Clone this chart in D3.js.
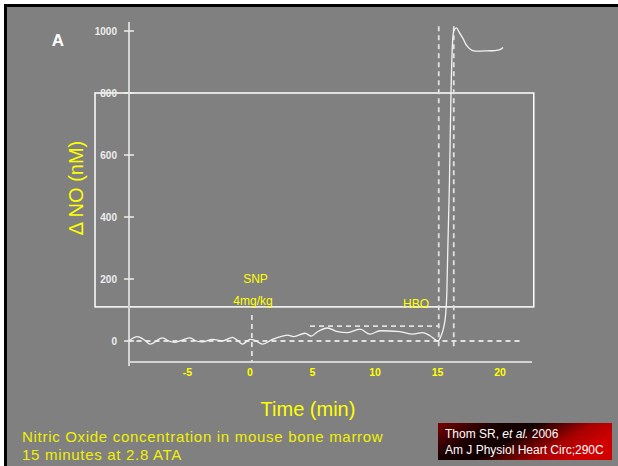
<!DOCTYPE html>
<html><head><meta charset="utf-8">
<script src="https://cdn.jsdelivr.net/npm/d3@7/dist/d3.min.js"></script>
<style>html,body{margin:0;padding:0;background:#fff;}svg{display:block;}</style>
</head><body>
<script>
// ---- data ----
const timeMin = [-9.7,-9.0,-8.4,-8.0,-7.0,-6.5,-6.0,-5.4,-4.8,-4.3,-3.8,-3.0,-2.2,-1.4,-1.0,-0.6,0,0.4,1.0,1.8,2.6,3.0,3.5,4.4,4.9,5.4,6.2,7.0,7.8,8.8,9.6,10.4,12.0,13.0,13.8,14.4,15.04,15.3,15.5,15.65,15.75,15.82,15.95,16.08,16.2,16.3,16.5,16.75,17.05,17.3,17.6,17.9,18.3,19.0,19.6,20.0,20.25];
const deltaNO = [0,14,2,-10,10,0,-4,3,10,0,-3,5,0,12,2,-10,5,2,-10,5,16,19,14,25,16,30,42,30,27,38,22,33,30,22,27,17,0,18,45,85,160,290,500,800,960,1000,1010,995,975,955,942,936,935,936,937,940,947];
const xTicks = [-5,0,5,10,15,20];
const yTicks = [0,200,400,600,800,1000];
const baselineSpan = [-9.8, 21.7];      // dashed zero line
const snpMarker = {t:0.15, from:-68, to:84};
const plateau = {v:48, from:4.8, to:15.1};
const hboMarkers = [15.1, 16.3];
const hboSpan = [-20, 1015];
const boxTime = [-12.4, 22.7];
const boxNO = [110, 800];

const W=618,H=466;
const svg=d3.select("body").append("svg").attr("width",W).attr("height",H);
const yellow="#ffff00";
// frame
svg.append("rect").attr("width",W).attr("height",H).attr("fill","#fff");
svg.append("rect").attr("x",4).attr("y",4).attr("width",W).attr("height",H).attr("fill","#000");
svg.append("rect").attr("x",7).attr("y",7).attr("width",W).attr("height",H).attr("fill","#808080");

const x=d3.scaleLinear().domain([-5,20]).range([187.5,500]);
const y=d3.scaleLinear().domain([0,1000]).range([341,31]);

// white box
svg.append("rect").attr("x",x(boxTime[0])).attr("y",y(boxNO[1]))
  .attr("width",x(boxTime[1])-x(boxTime[0])).attr("height",y(boxNO[0])-y(boxNO[1]))
  .attr("fill","none").attr("stroke","#fff").attr("stroke-width",1.5);

// y axis
const yAxisG=svg.append("g").attr("transform","translate(129,0)");
yAxisG.append("line").attr("y1",22).attr("y2",366).attr("stroke","#d4d4d4").attr("stroke-width",2);
yAxisG.selectAll("line.t").data(yTicks).join("line").attr("class","t")
  .attr("x1",-5).attr("x2",5).attr("y1",d=>y(d)).attr("y2",d=>y(d)).attr("stroke","#eee").attr("stroke-width",1.5);
yAxisG.selectAll("text").data(yTicks).join("text")
  .attr("x",-12).attr("y",d=>y(d)+3.5).attr("text-anchor","end")
  .attr("font-family","Liberation Sans, Arial, sans-serif").attr("font-weight","bold").attr("font-size",10)
  .attr("fill","#eee").text(d=>d);

// x axis
svg.append("line").attr("x1",129).attr("x2",532).attr("y1",362).attr("y2",362).attr("stroke","#d4d4d4").attr("stroke-width",2);
svg.selectAll("text.xt").data(xTicks).join("text").attr("class","xt")
  .attr("x",d=>x(d)).attr("y",376).attr("text-anchor","middle")
  .attr("font-family","Liberation Sans, Arial, sans-serif").attr("font-weight","bold").attr("font-size",10.5)
  .attr("fill",yellow).text(d=>d);

// dashed reference lines
const dash={stroke:"#e0e0e0","stroke-width":1.8,"stroke-dasharray":"5,4"};
function dl(x1,y1,x2,y2){const l=svg.append("line").attr("x1",x1).attr("y1",y1).attr("x2",x2).attr("y2",y2).attr("fill","none");for(const k in dash)l.attr(k,dash[k]);}
dl(x(baselineSpan[0]),y(0),x(baselineSpan[1]),y(0));
dl(x(snpMarker.t),y(snpMarker.to),x(snpMarker.t),y(snpMarker.from));
dl(x(plateau.from),y(plateau.v),x(plateau.to),y(plateau.v));
hboMarkers.forEach(t=>dl(x(t),y(hboSpan[1]),x(t),y(hboSpan[0])));

// trace
const line=d3.line().x(d=>x(d[0])).y(d=>y(d[1])).curve(d3.curveMonotoneX);
svg.append("path").datum(timeMin.map((t,i)=>[t,deltaNO[i]])).attr("d",line)
  .attr("fill","none").attr("stroke","#f2f2f2").attr("stroke-width",1.3);

// texts
const F="Liberation Sans, Arial, sans-serif";
svg.append("text").attr("x",58).attr("y",46).attr("text-anchor","middle").attr("font-family",F).attr("font-weight","bold").attr("font-size",17).attr("fill","#fff").text("A");
svg.append("text").attr("transform","translate(83,188) rotate(-90)").attr("text-anchor","middle").attr("font-family",F).attr("font-size",20).attr("fill",yellow).text("\u0394 NO (nM)");
svg.append("text").attr("x",255.5).attr("y",283).attr("text-anchor","middle").attr("font-family",F).attr("font-size",12).attr("fill",yellow).text("SNP");
svg.append("text").attr("x",253).attr("y",305).attr("text-anchor","middle").attr("font-family",F).attr("font-size",12).attr("fill",yellow).text("4mg/kg");
svg.append("text").attr("x",416).attr("y",308).attr("text-anchor","middle").attr("font-family",F).attr("font-size",12).attr("fill",yellow).text("HBO");
svg.append("text").attr("x",308).attr("y",416).attr("text-anchor","middle").attr("font-family",F).attr("font-size",20).attr("fill",yellow).text("Time (min)");
svg.append("text").attr("x",22).attr("y",442).attr("font-family",F).attr("font-size",15).attr("letter-spacing",0.7).attr("fill","#f0f000").text("Nitric Oxide concentration in mouse bone marrow");
svg.append("text").attr("x",22).attr("y",459.5).attr("font-family",F).attr("font-size",15).attr("letter-spacing",0.7).attr("fill","#f0f000").text("15 minutes at 2.8 ATA");

// citation box
const defs=svg.append("defs");
const g=defs.append("linearGradient").attr("id","cg").attr("x1","0").attr("y1","0").attr("x2","1").attr("y2","0.35");
[["0%","#7a0000"],["30%","#1a0000"],["50%","#100000"],["80%","#a80000"],["100%","#d00000"]].forEach(s=>g.append("stop").attr("offset",s[0]).attr("stop-color",s[1]));
svg.append("rect").attr("x",438).attr("y",423).attr("width",174).attr("height",37).attr("fill","url(#cg)");
const c1=svg.append("text").attr("x",445).attr("y",438).attr("font-family",F).attr("font-size",12).attr("fill","#fff");
c1.append("tspan").text("Thom SR, ");
c1.append("tspan").attr("font-style","italic").text("et al.");
c1.append("tspan").text(" 2006");
svg.append("text").attr("x",445).attr("y",454).attr("font-family",F).attr("font-size",12).attr("fill","#fff").text("Am J Physiol Heart Circ;290C");
</script>
</body></html>
